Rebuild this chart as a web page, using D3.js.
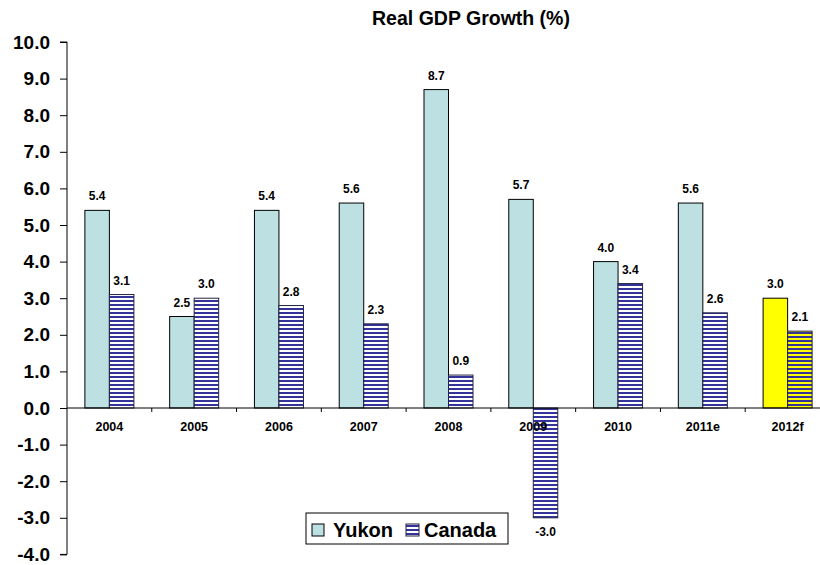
<!DOCTYPE html>
<html>
<head>
<meta charset="utf-8">
<script src="https://cdn.jsdelivr.net/npm/d3@7"></script>
<style>
  body { margin: 0; background: #fff; }
  svg text { font-family: "Liberation Sans", Arial, sans-serif; font-weight: bold; fill: #000; }
</style>
</head>
<body>
<div id="chart"></div>
<script>
// data
var years = ["2004", "2005", "2006", "2007", "2008", "2009", "2010", "2011e", "2012f"];
var yukon = [5.4, 2.5, 5.4, 5.6, 8.7, 5.7, 4.0, 5.6, 3.0];
var canada = [3.1, 3.0, 2.8, 2.3, 0.9, -3.0, 3.4, 2.6, 2.1];
var yTicks = [10, 9, 8, 7, 6, 5, 4, 3, 2, 1, 0, -1, -2, -3, -4];
var series = ["Yukon", "Canada"];

var W = 820, H = 565;
var svg = d3.select("#chart")
    .append("svg")
        .attr("width", W)
        .attr("height", H);

// one decimal, plain hyphen for negatives
var fmt = function(v) { return d3.format(".1f")(v).replace("\u2212", "-"); };

// patterns for the striped Canada bars
var defs = svg.append("defs");
function stripes(id, bg) {
    var p = defs.append("pattern")
        .attr("id", id)
        .attr("patternUnits", "userSpaceOnUse")
        .attr("width", 4)
        .attr("height", 4);
    p.append("rect").attr("width", 4).attr("height", 4).attr("fill", bg);
    p.append("rect").attr("y", 0).attr("width", 4).attr("height", 2).attr("fill", "#333399");
}
stripes("stripeW", "#fff");
stripes("stripeY", "#ffff00");

var x = d3.scaleBand()
    .domain(years)
    .range([67, 830]);

var sub = d3.scaleBand()
    .domain(series)
    .range([0, x.bandwidth()])
    .paddingOuter(0.73);

var y = d3.scaleLinear()
    .domain([-4, 10])
    .range([554.4, 42]);

// title
svg.append("text")
    .attr("x", 471)
    .attr("y", 25)
    .attr("text-anchor", "middle")
    .style("font-size", "19.5px")
    .text("Real GDP Growth (%)");

// y axis
var yAxis = svg.append("g")
    .attr("transform", "translate(67,0)")
    .call(d3.axisLeft(y).tickValues(yTicks).tickSize(7).tickPadding(10)
        .tickFormat(fmt));
yAxis.selectAll("text").style("font-size", "19px").attr("font-family", null);
yAxis.selectAll("line, path").attr("stroke", "#000");
yAxis.select(".domain").attr("d", "M-7," + y(10) + "H0V" + y(-4) + "H-7");

// bars
var rows = years.map(function(d, i) {
    return {year: d, i: i, vals: [{s: "Yukon", v: yukon[i]}, {s: "Canada", v: canada[i]}]};
});

var groups = svg.append("g")
    .selectAll("g")
    .data(rows)
    .enter()
    .append("g")
        .attr("transform", function(d) { return "translate(" + x(d.year) + ",0)"; });

groups.selectAll("rect")
    .data(function(d) { return d.vals.map(function(v) { return {s: v.s, v: v.v, i: d.i}; }); })
    .enter()
    .append("rect")
        .attr("x", function(d) { return sub(d.s); })
        .attr("width", sub.bandwidth())
        .attr("y", function(d) { return y(Math.max(0, d.v)); })
        .attr("height", function(d) { return Math.abs(y(d.v) - y(0)); })
        .attr("fill", function(d) {
            var last = d.i === years.length - 1;
            if (d.s === "Yukon") return last ? "#ffff00" : "#bde1e3";
            return last ? "url(#stripeY)" : "url(#stripeW)";
        })
        .attr("stroke", function(d) { return d.s === "Yukon" ? "#000" : "#222244"; })
        .attr("stroke-width", 1);

// value labels
groups.selectAll("text.val")
    .data(function(d) { return d.vals; })
    .enter()
    .append("text")
        .attr("class", "val")
        .attr("x", function(d) { return sub(d.s) + sub.bandwidth() / 2; })
        .attr("y", function(d) { return d.v >= 0 ? y(d.v) - 10 : y(d.v) + 18; })
        .attr("text-anchor", "middle")
        .style("font-size", "12px")
        .text(function(d) { return fmt(d.v); });

// x axis along zero
svg.append("line")
    .attr("x1", 67).attr("x2", W)
    .attr("y1", y(0)).attr("y2", y(0))
    .attr("stroke", "#000");

svg.append("g")
    .selectAll("line")
    .data(years.slice(1))
    .enter()
    .append("line")
        .attr("x1", function(d) { return x(d); })
        .attr("x2", function(d) { return x(d); })
        .attr("y1", y(0))
        .attr("y2", y(0) + 4)
        .attr("stroke", "#000");

svg.append("g")
    .selectAll("text")
    .data(years)
    .enter()
    .append("text")
        .attr("x", function(d) { return x(d) + x.bandwidth() / 2; })
        .attr("y", y(0) + 23)
        .attr("text-anchor", "middle")
        .style("font-size", "12.5px")
        .text(function(d) { return d; });

// legend
var legend = svg.append("g").attr("transform", "translate(306,513)");
legend.append("rect")
    .attr("width", 202)
    .attr("height", 31)
    .attr("fill", "#fff")
    .attr("stroke", "#000");
legend.append("rect")
    .attr("x", 6).attr("y", 11).attr("width", 12).attr("height", 12)
    .attr("fill", "#bde1e3").attr("stroke", "#000");
legend.append("text")
    .attr("x", 27).attr("y", 24)
    .style("font-size", "20px")
    .text("Yukon");
legend.append("rect")
    .attr("x", 100).attr("y", 11).attr("width", 13).attr("height", 12)
    .attr("fill", "url(#stripeW)").attr("stroke", "#222244");
legend.append("text")
    .attr("x", 118).attr("y", 24)
    .style("font-size", "20px")
    .text("Canada");
</script>
</body>
</html>
